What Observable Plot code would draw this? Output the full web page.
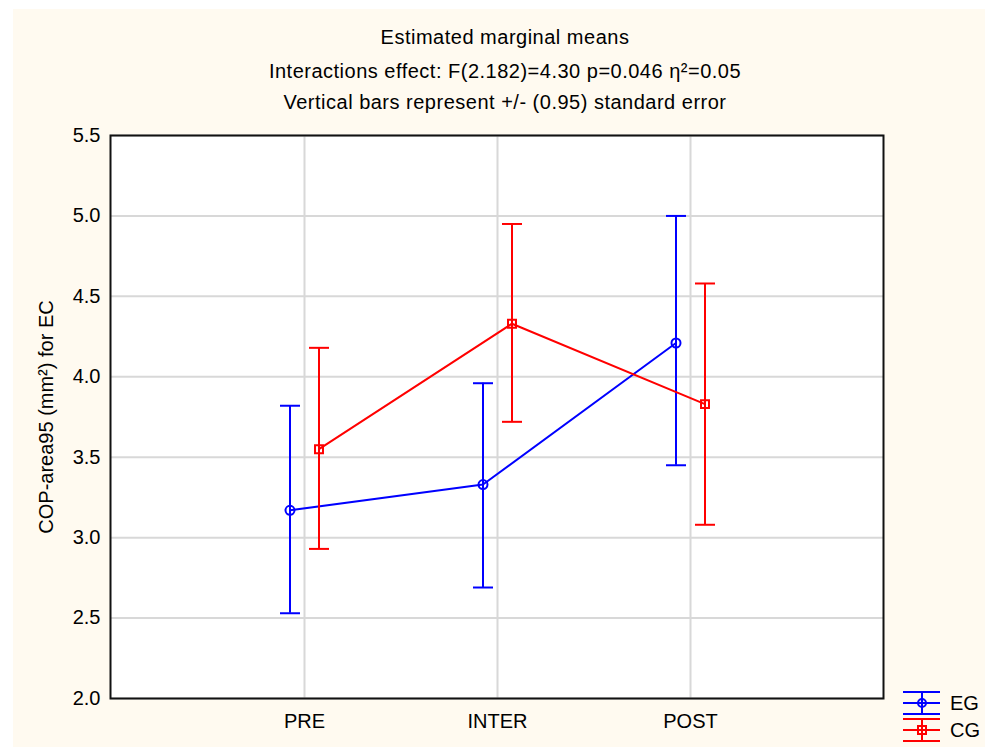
<!DOCTYPE html>
<html>
<head>
<meta charset="utf-8">
<script src="https://cdn.jsdelivr.net/npm/d3@7"></script>
<script src="https://cdn.jsdelivr.net/npm/@observablehq/plot@0.6"></script>
<style>
  html, body { margin: 0; padding: 0; background: #ffffff; }
  #page { position: relative; width: 987px; height: 747px; overflow: hidden; font-family: "Liberation Sans", Arial, sans-serif; }
  #bg { position: absolute; left: 13px; top: 9px; width: 972px; height: 738px; background: #fffaf0; }
  .title { position: absolute; left: 0; width: 1010px; text-align: center; font-size: 20px; line-height: 22px; color: #000; letter-spacing: 0.5px; white-space: nowrap; }
  #chart { position: absolute; left: 0; top: 120px; }
  #legend { position: absolute; left: 895px; top: 685px; }
</style>
</head>
<body>
<div id="page">
  <div id="bg"></div>
  <div class="title" style="top:26px">Estimated marginal means</div>
  <div class="title" style="top:60px">Interactions effect: F(2.182)=4.30 p=0.046 η²=0.05</div>
  <div class="title" style="top:91px">Vertical bars represent +/- (0.95) standard error</div>
  <div id="chart"></div>
  <svg id="legend" width="92" height="62"></svg>
</div>
<script>
// ---- data ----
const categories = ["PRE", "INTER", "POST"];
const groups = ["EG", "CG"];
const groupColors = ["#0000ff", "#ff0000"];
const egMean = [3.17, 3.33, 4.21];
const egLow  = [2.53, 2.69, 3.45];
const egHigh = [3.82, 3.96, 5.00];
const cgMean = [3.55, 4.33, 3.83];
const cgLow  = [2.93, 3.72, 3.08];
const cgHigh = [4.18, 4.95, 4.58];
const yTicks = [2.0, 2.5, 3.0, 3.5, 4.0, 4.5, 5.0, 5.5];
const yLabel = "COP-area95 (mm²) for EC";

const egRows = categories.map((c, i) => ({time: c, mean: egMean[i], low: egLow[i], high: egHigh[i]}));
const cgRows = categories.map((c, i) => ({time: c, mean: cgMean[i], low: cgLow[i], high: cgHigh[i]}));

const capSymbol = {
  draw(context, size) {
    const r = Math.sqrt(size / Math.PI);
    context.moveTo(-r, 0);
    context.lineTo(r, 0);
  }
};

function seriesMarks(rows, color, dx, symbol, r) {
  return [
    Plot.ruleX(rows, {x: "time", y1: "low", y2: "high", stroke: color, strokeWidth: 2, dx}),
    Plot.dot(rows, {x: "time", y: "low", symbol: capSymbol, r: 10, stroke: color, strokeWidth: 2, dx}),
    Plot.dot(rows, {x: "time", y: "high", symbol: capSymbol, r: 10, stroke: color, strokeWidth: 2, dx}),
    Plot.line(rows, {x: "time", y: "mean", stroke: color, strokeWidth: 2, dx}),
    Plot.dot(rows, {x: "time", y: "mean", symbol, r, stroke: color, strokeWidth: 2, fill: "none", dx})
  ];
}

const chart = Plot.plot({
  width: 987,
  height: 627,
  marginLeft: 110,
  marginRight: 104,
  marginTop: 15,
  marginBottom: 49,
  style: {background: "none", fontFamily: "'Liberation Sans', Arial, sans-serif", fontSize: "20px", color: "#000"},
  x: {type: "point", domain: categories, padding: 1, label: null},
  y: {domain: [2, 5.5], label: null},
  marks: [
    Plot.frame({fill: "white", stroke: "none"}),
    Plot.gridX(categories, {stroke: "#d8d8d8", strokeOpacity: 1, strokeWidth: 2}),
    Plot.gridY(yTicks, {stroke: "#d8d8d8", strokeOpacity: 1, strokeWidth: 2}),
    Plot.axisX(categories, {tickSize: 0, tickPadding: 15, fontSize: 20, label: null}),
    Plot.axisY(yTicks, {tickSize: 0, tickPadding: 10, fontSize: 20, tickFormat: d3.format(".1f"), label: null}),
    Plot.text([yLabel], {frameAnchor: "left", textAnchor: "middle", dx: -64, rotate: -90, fontSize: 20, fill: "#000"}),
    ...seriesMarks(egRows, groupColors[0], -14.5, "circle", 4.5),
    ...seriesMarks(cgRows, groupColors[1], 14.5, "square", 4.5),
    Plot.frame({stroke: "#111", strokeWidth: 2})
  ]
});
document.getElementById("chart").appendChild(chart);

// ---- legend ----
const leg = d3.select("#legend");
groups.forEach((g, i) => {
  const cy = 18 + i * 27;
  const col = groupColors[i];
  const gg = leg.append("g").attr("stroke", col).attr("stroke-width", 2).attr("fill", "none");
  [-11, 0, 11].forEach(o => gg.append("line").attr("x1", 8).attr("x2", 45).attr("y1", cy + o).attr("y2", cy + o));
  gg.append("line").attr("x1", 27).attr("x2", 27).attr("y1", cy - 11).attr("y2", cy + 11);
  if (i === 0) gg.append("circle").attr("cx", 27).attr("cy", cy).attr("r", 4);
  else gg.append("rect").attr("x", 23).attr("y", cy - 4).attr("width", 8).attr("height", 8);
  leg.append("text").attr("x", 55).attr("y", cy).attr("dy", "0.36em")
    .attr("font-family", "'Liberation Sans', Arial, sans-serif").attr("font-size", 20).attr("fill", "#000").text(g);
});
</script>
</body>
</html>
